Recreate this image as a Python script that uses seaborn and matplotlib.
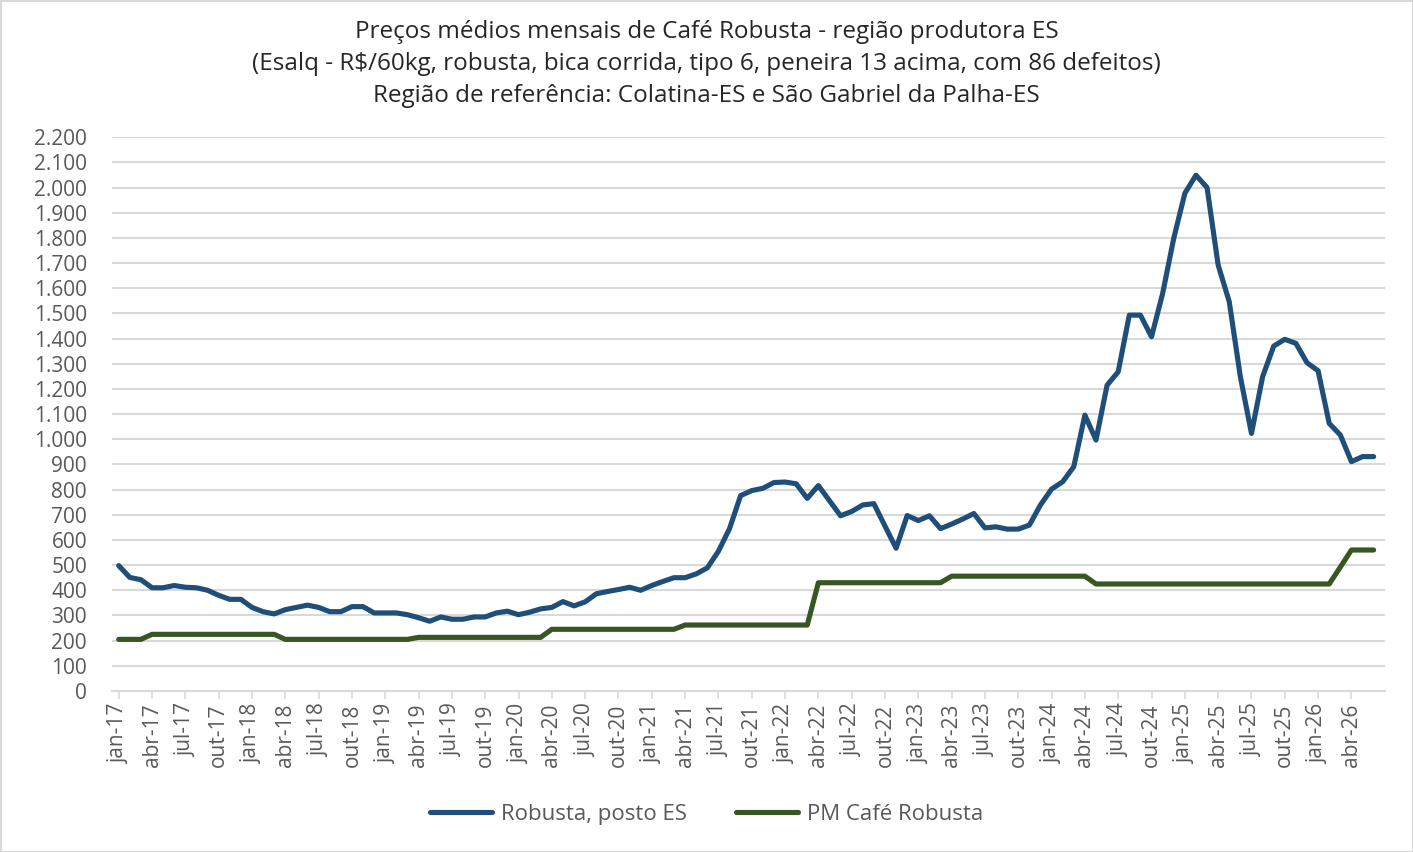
import pandas as pd
import seaborn as sns
import matplotlib.pyplot as plt
from matplotlib.ticker import FuncFormatter

# meses (jan-17 a jun-26)
meses_pt = ['jan', 'fev', 'mar', 'abr', 'mai', 'jun', 'jul', 'ago', 'set', 'out', 'nov', 'dez']
anos = ['17', '18', '19', '20', '21', '22', '23', '24', '25', '26']
meses = [m + '-' + a for a in anos for m in meses_pt][:114]

# Robusta, posto ES (R$/60kg)
robusta = [498, 451, 442, 410, 410, 419, 412, 410, 400, 380, 364, 364,
           332, 315, 306, 323, 332, 341, 332, 315, 315, 335, 335, 310,
           310, 310, 303, 291, 277, 294, 285, 285, 294, 294, 310, 317,
           303, 313, 326, 332, 355, 338, 354, 386, 395, 403, 412, 400,
           419, 435, 450, 450, 465, 489, 555, 645, 776, 796, 805, 828,
           830, 823, 765, 816, 756, 696, 713, 739, 744, 655, 567, 697,
           677, 696, 645, 663, 683, 705, 648, 652, 643, 643, 659, 739,
           802, 831, 891, 1096, 997, 1215, 1268, 1493, 1493, 1407, 1579, 1798,
           1977, 2049, 2000, 1692, 1546, 1248, 1023, 1248, 1370, 1397, 1381, 1304,
           1272, 1063, 1017, 911, 931, 931]

# PM Café Robusta (preço mínimo)
pm = [205, 205, 205, 225, 225, 225, 225, 225, 225, 225, 225, 225,
      225, 225, 225, 205, 205, 205, 205, 205, 205, 205, 205, 205,
      205, 205, 205, 213, 213, 213, 213, 213, 213, 213, 213, 213,
      213, 213, 213, 245, 245, 245, 245, 245, 245, 245, 245, 245,
      245, 245, 245, 262, 262, 262, 262, 262, 262, 262, 262, 262,
      262, 262, 262, 430, 430, 430, 430, 430, 430, 430, 430, 430,
      430, 430, 430, 456, 456, 456, 456, 456, 456, 456, 456, 456,
      456, 456, 456, 456, 425, 425, 425, 425, 425, 425, 425, 425,
      425, 425, 425, 425, 425, 425, 425, 425, 425, 425, 425, 425,
      425, 425, 492, 560, 560, 560]

series = ['Robusta, posto ES', 'PM Café Robusta']
cores = ['#1F4E79', '#375623']

df = pd.DataFrame({'idx': list(range(len(meses))) * 2,
                   'valor': robusta + pm,
                   'serie': [series[0]] * len(robusta) + [series[1]] * len(pm)})

sns.set_theme(style='white')
plt.rcParams['font.family'] = ['Open Sans', 'DejaVu Sans']

fig = plt.figure(figsize=(14.13, 8.52), dpi=100)
fig.patch.set_edgecolor('#D9D9D9')
fig.patch.set_linewidth(2)
ax = fig.add_axes([0.0793, 0.189, 0.9007, 0.650])

sns.lineplot(data=df, x='idx', y='valor', hue='serie', hue_order=series,
             palette=cores, linewidth=3.7, ax=ax, legend=False)

ax.set_xlim(-0.6, 114.0)
ax.set_ylim(0, 2200)
ax.set_yticks(range(0, 2201, 100))
ax.yaxis.set_major_formatter(FuncFormatter(lambda v, p: f'{int(v):,}'.replace(',', '.')))
ax.set_xticks(range(0, len(meses), 3))
ax.set_xticklabels(meses[::3], rotation=90)
ax.grid(axis='y', color='#D9D9D9', linewidth=1.5)
ax.set_axisbelow(True)
for s in ['left', 'right', 'top']:
    ax.spines[s].set_visible(False)
ax.spines['bottom'].set_color('#D9D9D9')
ax.spines['bottom'].set_linewidth(1.5)
ax.tick_params(axis='y', length=0, pad=18, labelsize=15, labelcolor='#595959')
ax.tick_params(axis='x', length=6, width=1.2, color='#D9D9D9', pad=3,
               labelsize=15, labelcolor='#595959', bottom=True)
ax.set_xlabel('')
ax.set_ylabel('')

titulo = ['Preços médios mensais de Café Robusta - região produtora ES',
          '(Esalq - R$/60kg, robusta, bica corrida, tipo 6, peneira 13 acima, com 86 defeitos)',
          'Região de referência: Colatina-ES e São Gabriel da Palha-ES']
for linha, yy in zip(titulo, [0.963, 0.925, 0.887]):
    fig.text(0.5, yy, linha, ha='center', va='center', fontsize=17.5, color='#262626')

handles = [plt.Line2D([], [], color=c, linewidth=3.7) for c in cores]
fig.legend(handles, series, loc='center', bbox_to_anchor=(0.5, 0.044), ncol=2,
           frameon=False, fontsize=16, handlelength=2.8, handletextpad=0.4,
           columnspacing=2.2, labelcolor='#595959')

fig.savefig('out.png', dpi=100)
